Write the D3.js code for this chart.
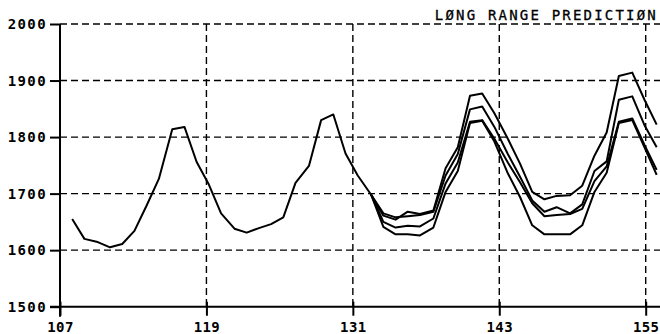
<!DOCTYPE html>
<html><head><meta charset="utf-8">
<script src="https://cdn.jsdelivr.net/npm/d3@7"></script>
<style>
html,body{margin:0;padding:0;background:#fff;}
svg{display:block;}
</style></head>
<body><svg id="c" width="660" height="334"></svg>
<script>
const title = "LØNG RANGE PREDICTIØN";
const xTicks = [107, 119, 131, 143, 155];
const yTicks = [1500, 1600, 1700, 1800, 1900, 2000];
const months = [108.0,109.0,110.0,111.1,112.1,113.1,114.1,115.1,116.2,117.2,118.2,119.2,120.2,121.3,122.3,123.3,124.3,125.3,126.3,127.4,128.4,129.4,130.4,131.4,132.5,133.5,134.5,135.5,136.5,137.6,138.6,139.6,140.6,141.6,142.6,143.7,144.7,145.7,146.7,147.7,148.8,149.8,150.8,151.8,152.8,153.9,154.9,155.9];
const history = [1655,1620,1615,1605,1611,1634,1679,1726,1814,1818,1756,1716,1665,1638,1631,1639,1646,1658,1719,1749,1830,1840,1771,1732,1698];
const predStart = 24;
const predA = [1698,1661,1654,1668,1664,1670,1745,1782,1873,1877,1842,1797,1753,1703,1690,1696,1697,1714,1767,1808,1908,1914,1866,1822];
const predB = [1698,1665,1658,1660,1662,1668,1732,1770,1849,1854,1818,1770,1730,1688,1668,1676,1665,1681,1740,1757,1866,1872,1821,1782];
const predC = [1698,1650,1640,1643,1642,1656,1718,1755,1827,1830,1797,1755,1720,1683,1660,1662,1664,1673,1722,1748,1827,1833,1786,1742];
const predD = [1698,1641,1628,1628,1626,1640,1703,1740,1825,1829,1792,1736,1694,1644,1628,1628,1628,1644,1703,1737,1825,1830,1782,1733];

const svg = d3.select("#c");
const x = d3.scaleLinear().domain([107, 155]).range([60, 645.7]);
const y = d3.scaleLinear().domain([1500, 2000]).range([306.7, 24]);
const font = "'DejaVu Sans Mono', monospace";

// grid
svg.append("g").selectAll("line").data(yTicks.filter(v => v > 1500)).join("line")
  .attr("x1", x(107)).attr("x2", 660).attr("y1", d => y(d)).attr("y2", d => y(d))
  .attr("stroke", "#000").attr("stroke-width", 1.4).attr("stroke-dasharray", "7,4");
svg.append("g").selectAll("line").data(xTicks.filter(v => v > 107)).join("line")
  .attr("x1", d => x(d)).attr("x2", d => x(d)).attr("y1", y(2000)).attr("y2", y(1500))
  .attr("stroke", "#000").attr("stroke-width", 1.4).attr("stroke-dasharray", "7,4");

// axes
const xAxis = d3.axisBottom(x).tickValues(xTicks).tickSize(9).tickPadding(6).tickFormat(d3.format("d"));
const gx = svg.append("g").attr("transform", `translate(0,${y(1500)})`).call(xAxis);
gx.select(".domain").remove();
gx.append("line").attr("x1", 50).attr("x2", 660).attr("stroke", "#000").attr("stroke-width", 2);
gx.selectAll(".tick line").attr("y1", -5).attr("stroke-width", 2);
gx.selectAll(".tick text").attr("font-family", font).attr("font-weight", "bold")
  .attr("font-size", 14).attr("letter-spacing", 0.4).attr("fill", "#000").attr("dy", "0.75em");

const yAxis = d3.axisLeft(y).tickValues(yTicks).tickSize(10).tickPadding(3).tickFormat(d3.format("d"));
const gy = svg.append("g").attr("transform", `translate(${x(107)},0)`).call(yAxis);
gy.select(".domain").remove();
gy.append("line").attr("y1", y(2000)).attr("y2", y(1500) + 10).attr("stroke", "#000").attr("stroke-width", 2);
gy.selectAll(".tick line").attr("stroke-width", 2);
gy.selectAll(".tick text").attr("font-family", font).attr("font-weight", "bold")
  .attr("font-size", 14).attr("letter-spacing", 1.4).attr("fill", "#000");

// title
svg.append("text").attr("x", 658).attr("y", 20).attr("text-anchor", "end")
  .attr("font-family", font).attr("font-size", 14).attr("letter-spacing", 2.2)
  .attr("stroke", "#000").attr("stroke-width", 0.3)
  .attr("fill", "#000").text(title);

// lines
const line = d3.line().x(d => x(d[0])).y(d => y(d[1]));
const series = [
  history.map((v, i) => [months[i], v]),
  ...[predA, predB, predC, predD].map(p => p.map((v, i) => [months[predStart + i], v]))
];
svg.append("g").selectAll("path").data(series).join("path")
  .attr("d", line).attr("fill", "none").attr("stroke", "#000")
  .attr("stroke-width", 2).attr("stroke-linejoin", "round");
</script></body></html>
